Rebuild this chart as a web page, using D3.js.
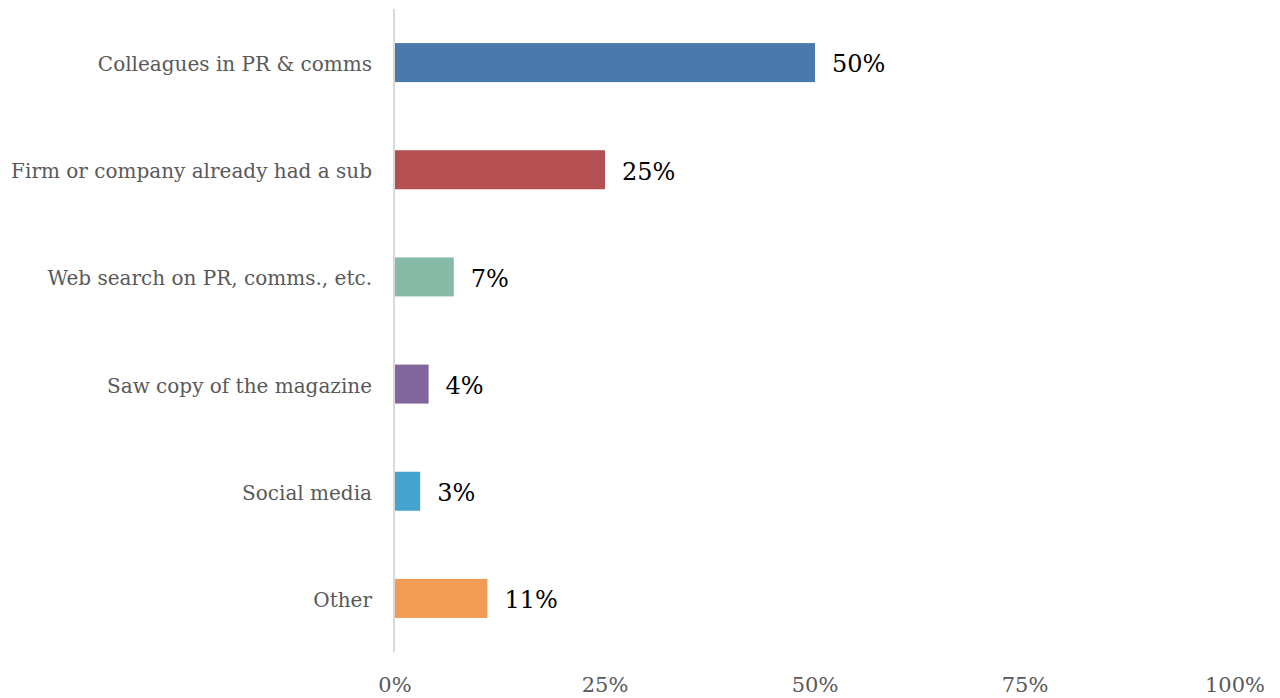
<!DOCTYPE html>
<html><head><meta charset="utf-8">
<script src="https://cdn.jsdelivr.net/npm/d3@7"></script>
<style>body{margin:0;background:#fff;}svg{display:block;}</style>
</head><body>
<svg id="chart" width="1280" height="698"></svg>
<script>
const categories = ["Colleagues in PR & comms","Firm or company already had a sub","Web search on PR, comms., etc.","Saw copy of the magazine","Social media","Other"];
const values = [0.50,0.25,0.07,0.04,0.03,0.11];
const valueLabels = ["50%","25%","7%","4%","3%","11%"];
const colors = ["#4a7aab","#b44f52","#86bba8","#82659a","#45a4cd","#f29b55"];
const ticks = [0,0.25,0.5,0.75,1];
const tickLabels = ["0%","25%","50%","75%","100%"];

const svg = d3.select("#chart");
const font = "'DejaVu Serif', serif";
const x = d3.scaleLinear().domain([0,1]).range([395,1235]);
const y = d3.scaleBand().domain(categories).range([9,652]).paddingInner(0.636).paddingOuter(0.318);

svg.selectAll("rect.bar").data(values).join("rect")
  .attr("x", x(0)).attr("y",(d,i)=>y(categories[i]))
  .attr("width", d=>x(d)-x(0)).attr("height", y.bandwidth())
  .attr("fill",(d,i)=>colors[i]);

svg.append("line").attr("x1",394).attr("x2",394).attr("y1",9).attr("y2",652)
  .attr("stroke","#d9d9d9").attr("stroke-width",2);

svg.selectAll("text.cat").data(categories).join("text")
  .attr("x",372).attr("y",d=>y(d)+y.bandwidth()/2+1.5).attr("dy","0.35em")
  .attr("text-anchor","end").attr("font-family",font).attr("font-size",20)
  .attr("fill","#595959").text(d=>d);

svg.selectAll("text.val").data(values).join("text")
  .attr("x",d=>x(d)+17).attr("y",(d,i)=>y(categories[i])+y.bandwidth()/2+1.5).attr("dy","0.35em")
  .attr("font-family",font).attr("font-size",24).attr("fill","#000")
  .text((d,i)=>valueLabels[i]);

svg.selectAll("text.tick").data(ticks).join("text")
  .attr("x",d=>x(d)).attr("y",685).attr("dy","0.35em").attr("text-anchor","middle")
  .attr("font-family",font).attr("font-size",21).attr("fill","#595959")
  .text((d,i)=>tickLabels[i]);
</script>
</body></html>
